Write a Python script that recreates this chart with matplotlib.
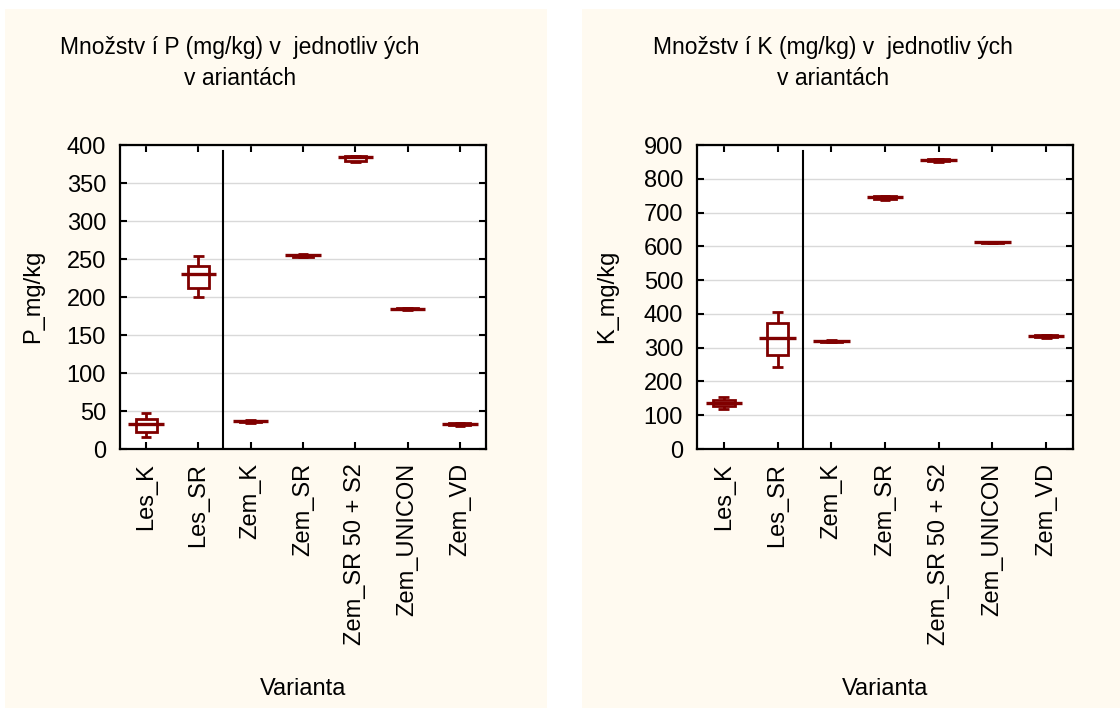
import matplotlib
matplotlib.use("Agg")
import matplotlib.pyplot as plt
from matplotlib.patches import Rectangle

plt.rcParams["font.family"] = ["Liberation Sans", "DejaVu Sans"]

# Data: median / quartile / range per variant
variants = ["Les_K", "Les_SR", "Zem_K", "Zem_SR", "Zem_SR 50 + S2", "Zem_UNICON", "Zem_VD"]

p_min = [16, 200, 34, 252, 377, 183.5, 30.5]
p_q1 = [23, 212, 35.5, 253, 379, 184, 31.5]
p_med = [33, 230, 37, 255, 384, 184.5, 33]
p_q3 = [40, 241, 37.5, 255.5, 385, 185, 34]
p_max = [47, 254, 38, 256, 386, 185.5, 34.5]

k_min = [119, 244, 316, 736, 851, 610, 328]
k_q1 = [127, 278, 318, 740, 854, 611, 331]
k_med = [137, 328, 320, 746, 857, 612, 335]
k_q3 = [145, 372, 321, 748, 858, 613, 337]
k_max = [153, 405, 322, 749, 859, 614, 338]

p_ticks = [0, 50, 100, 150, 200, 250, 300, 350, 400]
k_ticks = [0, 100, 200, 300, 400, 500, 600, 700, 800, 900]

RED = "#800000"
CREAM = "#fffaf0"
FS = 17

W, H = 1120, 708
fig = plt.figure(figsize=(W / 100, H / 100), dpi=100)
fig.patch.set_facecolor("white")

# cream panels behind each chart
for x0, x1 in [(5, 547), (582, 1120)]:
    fig.patches.append(Rectangle((x0 / W, 0), (x1 - x0) / W, 699 / H,
                                 transform=fig.transFigure, facecolor=CREAM,
                                 edgecolor="none", zorder=-10))


def draw_panel(ax, mins, q1s, meds, q3s, maxs, ticks, sep_x):
    ax.set_facecolor("white")
    for i in range(len(variants)):
        ax.vlines(i, mins[i], q1s[i], color=RED, lw=2.0, zorder=3)
        ax.vlines(i, q3s[i], maxs[i], color=RED, lw=2.0, zorder=3)
        ax.hlines([mins[i], maxs[i]], i - 0.1, i + 0.1, color=RED, lw=2.0, zorder=3)
        ax.add_patch(Rectangle((i - 0.2, q1s[i]), 0.4, q3s[i] - q1s[i],
                               facecolor="none", edgecolor=RED, lw=2.0, zorder=3))
        ax.hlines(meds[i], i - 0.34, i + 0.34, color=RED, lw=2.4, zorder=4)
    ax.axvline(sep_x, ymin=0, ymax=0.98, color="black", lw=1.5)
    ax.set_xlim(-0.5, len(variants) - 0.5)
    ax.set_ylim(ticks[0], ticks[-1])
    ax.set_yticks(ticks)
    ax.set_xticks(range(len(variants)))
    ax.set_xticklabels(variants, rotation=90, fontsize=FS)
    ax.tick_params(axis="y", labelsize=FS)
    ax.tick_params(direction="in", length=5, width=1.5, top=True, right=True, pad=10)
    ax.grid(axis="y", color="#d9d9d9", lw=1)
    ax.set_axisbelow(True)
    for s in ax.spines.values():
        s.set_linewidth(1.6)


ax1 = fig.add_axes([120 / W, 1 - 449 / H, 366 / W, 304 / H])
draw_panel(ax1, p_min, p_q1, p_med, p_q3, p_max, p_ticks, 1.47)
ax2 = fig.add_axes([697 / W, 1 - 449 / H, 376 / W, 304 / H])
draw_panel(ax2, k_min, k_q1, k_med, k_q3, k_max, k_ticks, 1.47)

# titles
TFS = 16.5
fig.text(240 / W, 1 - 54 / H, "Množstv í P (mg/kg) v  jednotliv ých", ha="center",
         va="baseline", fontsize=TFS)
fig.text(240 / W, 1 - 85 / H, "v ariantách", ha="center", va="baseline", fontsize=TFS)
fig.text(833 / W, 1 - 54 / H, "Množstv í K (mg/kg) v  jednotliv ých", ha="center",
         va="baseline", fontsize=TFS)
fig.text(833 / W, 1 - 85 / H, "v ariantách", ha="center", va="baseline", fontsize=TFS)

# axis labels
fig.text(33 / W, 1 - 296 / H, "P_mg/kg", rotation=90, ha="center", va="center", fontsize=FS)
fig.text(607 / W, 1 - 296 / H, "K_mg/kg", rotation=90, ha="center", va="center", fontsize=FS)
fig.text(303 / W, 1 - 695 / H, "Varianta", ha="center", va="baseline", fontsize=FS)
fig.text(885 / W, 1 - 695 / H, "Varianta", ha="center", va="baseline", fontsize=FS)

fig.savefig("out.png", dpi=100)
